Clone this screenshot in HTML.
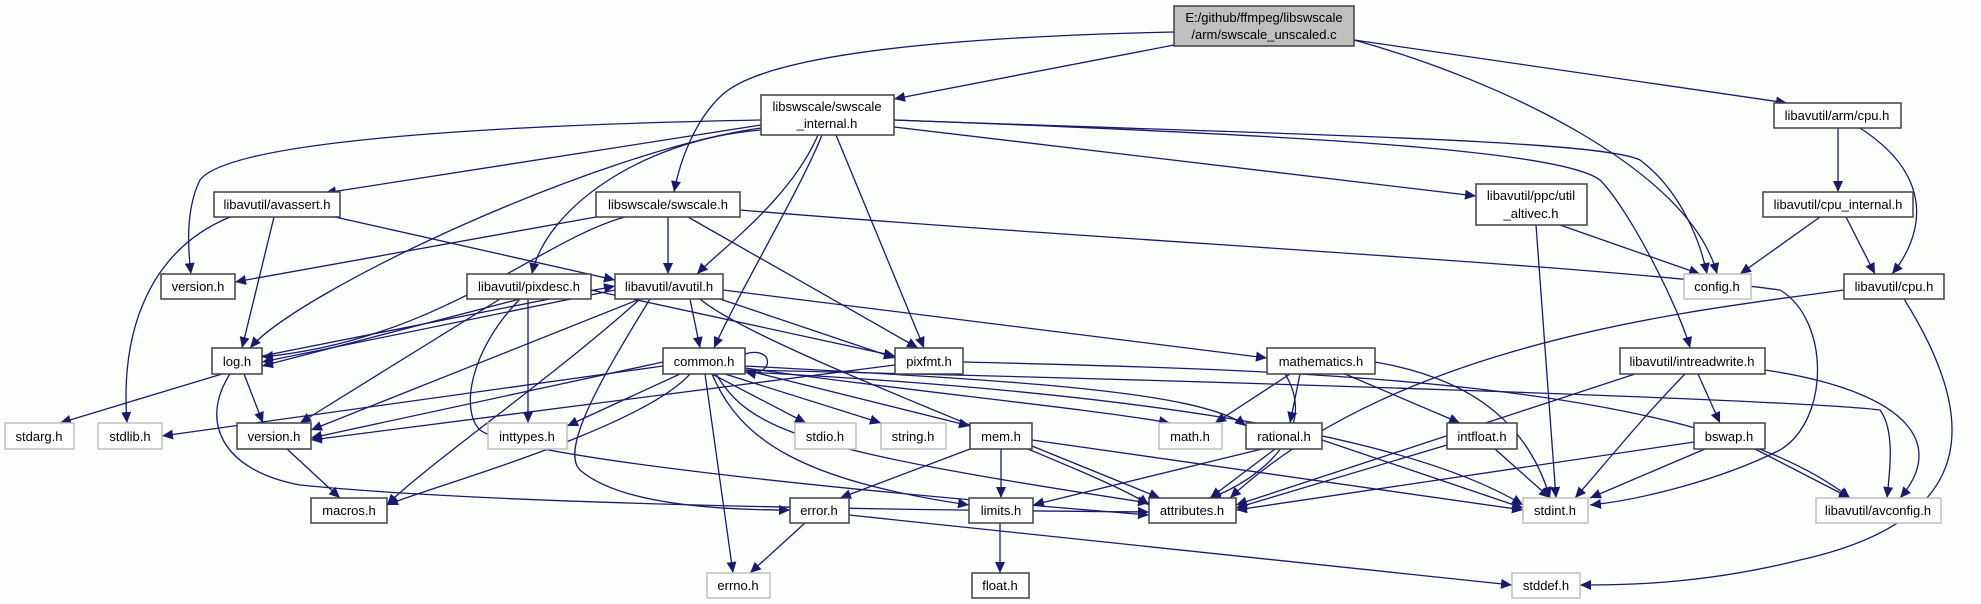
<!DOCTYPE html>
<html><head><meta charset="utf-8"><style>
html,body{margin:0;padding:0;background:#fdfffd;overflow:hidden;}
svg{display:block;}
text{font-family:"Liberation Sans",sans-serif;font-size:13px;fill:#000;}
.e{fill:none;stroke:#191970;stroke-width:1.3;marker-end:url(#a);}
.n{fill:#fff;stroke:#404040;stroke-width:1.5;}
.g{fill:#fff;stroke:#bfbfbf;stroke-width:1.5;}
</style></head><body>
<svg width="1981" height="604" viewBox="0 0 1981 604" xmlns="http://www.w3.org/2000/svg">
<defs><marker id="a" markerUnits="userSpaceOnUse" markerWidth="12" markerHeight="10" refX="11" refY="5" orient="auto"><path d="M0,0 L11,5 L0,10 z" fill="#191970"/></marker></defs>
<rect width="1981" height="604" fill="#fdfffd"/>
<!-- edges -->
<path class="e" d="M1174,45 L894,99"/>
<path class="e" d="M1174,32 C900,38 760,60 722,95 C695,120 680,160 674,192"/>
<path class="e" d="M1354,40 C1500,80 1690,170 1717,274"/>
<path class="e" d="M1354,40 L1787,103"/>
<path class="e" d="M761,125 L325,193"/>
<path class="e" d="M761,120 C500,125 230,140 200,180 C185,210 188,250 191,274"/>
<path class="e" d="M761,128 C600,150 300,290 250,348"/>
<path class="e" d="M761,130 C640,140 545,210 532,274"/>
<path class="e" d="M818,135 C790,200 720,250 697,274"/>
<path class="e" d="M822,135 C800,190 740,290 714,348"/>
<path class="e" d="M836,135 L924,348"/>
<path class="e" d="M894,127 L1476,196"/>
<path class="e" d="M894,120 C1300,135 1600,140 1640,160 C1680,190 1700,240 1707,274"/>
<path class="e" d="M894,120 C1300,135 1560,150 1600,180 C1630,210 1680,310 1690,348"/>
<path class="e" d="M230,217 C150,250 120,330 127,423"/>
<path class="e" d="M274,217 L242,348"/>
<path class="e" d="M335,217 L615,280"/>
<path class="e" d="M596,217 L235,282"/>
<path class="e" d="M625,217 C540,240 440,340 262,357"/>
<path class="e" d="M668,217 L668,274"/>
<path class="e" d="M688,217 L918,348"/>
<path class="e" d="M740,210 C1100,240 1600,265 1780,290 C1830,320 1830,420 1780,450 C1720,480 1640,500 1590,505"/>
<path class="e" d="M1560,225 L1700,274"/>
<path class="e" d="M1536,225 L1556,498"/>
<path class="e" d="M1838,128 L1838,192"/>
<path class="e" d="M1860,128 C1940,180 1920,240 1892,274"/>
<path class="e" d="M1820,217 L1740,274"/>
<path class="e" d="M1846,217 L1875,274"/>
<path class="e" d="M1844,290 C1700,310 1400,340 1230,498"/>
<path class="e" d="M1904,299 C1980,420 1980,520 1800,560 C1700,585 1620,585 1580,585"/>
<path class="e" d="M615,290 L262,362"/>
<path class="e" d="M262,356 L615,286"/>
<path class="e" d="M640,299 L311,430"/>
<path class="e" d="M690,299 L700,348"/>
<path class="e" d="M720,299 L895,358"/>
<path class="e" d="M723,290 L1267,358"/>
<path class="e" d="M640,299 C550,380 420,470 387,505"/>
<path class="e" d="M650,299 C600,380 560,450 580,470 C620,505 720,510 790,510"/>
<path class="e" d="M700,299 C760,350 1100,470 1149,505"/>
<path class="e" d="M222,374 L60,423"/>
<path class="e" d="M244,374 L263,423"/>
<path class="e" d="M230,374 C200,420 220,470 300,485 C500,505 900,510 1149,512"/>
<path class="e" d="M520,299 L262,366"/>
<path class="e" d="M500,299 L300,423"/>
<path class="e" d="M528,299 L528,423"/>
<path class="e" d="M591,290 L895,356"/>
<path class="e" d="M520,299 C470,350 460,410 480,430 C520,460 900,495 1149,515"/>
<path class="e" d="M287,449 L340,498"/>
<path class="e" d="M663,362 L311,438"/>
<path class="e" d="M663,366 L162,436"/>
<path class="e" d="M680,374 L567,426"/>
<path class="e" d="M712,374 L806,423"/>
<path class="e" d="M725,374 L881,423"/>
<path class="e" d="M745,370 L970,426"/>
<path class="e" d="M745,368 C900,390 1100,410 1170,423"/>
<path class="e" d="M745,366 C1000,380 1200,390 1246,426"/>
<path class="e" d="M690,374 C640,430 420,490 387,505"/>
<path class="e" d="M705,374 L733,573"/>
<path class="e" d="M712,374 C740,440 800,480 969,505"/>
<path class="e" d="M716,374 C750,430 800,450 1149,503"/>
<path class="e" d="M745,372 C1100,390 1400,430 1523,505"/>
<path class="e" d="M745,370 C1200,380 1800,400 1880,410 C1895,430 1890,470 1887,498"/>
<path class="e" d="M745,354 C775,345 775,378 745,372"/>
<path class="e" d="M895,365 L311,440"/>
<path class="e" d="M963,362 C1300,370 1700,380 1850,498"/>
<path class="e" d="M1290,374 L1215,423"/>
<path class="e" d="M1300,374 L1290,423"/>
<path class="e" d="M1345,374 L1460,423"/>
<path class="e" d="M1285,374 C1320,430 1260,480 1210,498"/>
<path class="e" d="M1375,362 C1480,380 1530,430 1550,498"/>
<path class="e" d="M1262,449 L1033,505"/>
<path class="e" d="M1275,449 L1210,498"/>
<path class="e" d="M1322,440 L1523,508"/>
<path class="e" d="M1001,449 L1001,498"/>
<path class="e" d="M970,449 L840,498"/>
<path class="e" d="M1032,446 L1160,498"/>
<path class="e" d="M1032,440 L1523,510"/>
<path class="e" d="M1000,523 L1000,573"/>
<path class="e" d="M805,523 L750,573"/>
<path class="e" d="M849,515 L1512,585"/>
<path class="e" d="M1447,445 L1236,508"/>
<path class="e" d="M1495,449 L1550,498"/>
<path class="e" d="M1635,374 L1236,505"/>
<path class="e" d="M1685,374 C1640,420 1600,470 1575,498"/>
<path class="e" d="M1698,374 L1720,423"/>
<path class="e" d="M1765,370 C1900,390 1950,440 1900,498"/>
<path class="e" d="M1694,442 L1236,510"/>
<path class="e" d="M1705,449 L1590,498"/>
<path class="e" d="M1755,449 L1850,498"/>
<!-- nodes -->
<rect x="1174" y="6" width="180" height="40" fill="#bfbfbf" stroke="#404040" stroke-width="1.5"/>
<text x="1264" y="22" text-anchor="middle">E:/github/ffmpeg/libswscale</text>
<text x="1264" y="39" text-anchor="middle">/arm/swscale_unscaled.c</text>
<rect class="n" x="761" y="95" width="133" height="40"/>
<text x="827" y="111" text-anchor="middle">libswscale/swscale</text>
<text x="827" y="128" text-anchor="middle">_internal.h</text>
<rect class="n" x="1774" y="103" width="127" height="25"/><text x="1837" y="120" text-anchor="middle">libavutil/arm/cpu.h</text>
<rect class="n" x="214" y="192" width="126" height="25"/><text x="277" y="209" text-anchor="middle">libavutil/avassert.h</text>
<rect class="n" x="596" y="192" width="144" height="25"/><text x="668" y="209" text-anchor="middle">libswscale/swscale.h</text>
<rect class="n" x="1476" y="184" width="111" height="41"/>
<text x="1531" y="200" text-anchor="middle">libavutil/ppc/util</text>
<text x="1531" y="218" text-anchor="middle">_altivec.h</text>
<rect class="n" x="1763" y="192" width="150" height="25"/><text x="1838" y="209" text-anchor="middle">libavutil/cpu_internal.h</text>
<rect class="n" x="161" y="274" width="74" height="25"/><text x="198" y="291" text-anchor="middle">version.h</text>
<rect class="n" x="467" y="274" width="124" height="25"/><text x="529" y="291" text-anchor="middle">libavutil/pixdesc.h</text>
<rect class="n" x="615" y="274" width="108" height="25"/><text x="669" y="291" text-anchor="middle">libavutil/avutil.h</text>
<rect class="g" x="1684" y="274" width="67" height="25"/><text x="1717" y="291" text-anchor="middle">config.h</text>
<rect class="n" x="1844" y="274" width="100" height="25"/><text x="1894" y="291" text-anchor="middle">libavutil/cpu.h</text>
<rect class="n" x="212" y="348" width="50" height="26"/><text x="237" y="366" text-anchor="middle">log.h</text>
<rect class="n" x="663" y="348" width="82" height="26"/><text x="704" y="366" text-anchor="middle">common.h</text>
<rect class="n" x="895" y="348" width="68" height="26"/><text x="929" y="366" text-anchor="middle">pixfmt.h</text>
<rect class="n" x="1267" y="348" width="108" height="26"/><text x="1321" y="366" text-anchor="middle">mathematics.h</text>
<rect class="n" x="1620" y="348" width="145" height="26"/><text x="1692" y="366" text-anchor="middle">libavutil/intreadwrite.h</text>
<rect class="g" x="5" y="423" width="69" height="26"/><text x="39" y="441" text-anchor="middle">stdarg.h</text>
<rect class="g" x="98" y="423" width="64" height="26"/><text x="130" y="441" text-anchor="middle">stdlib.h</text>
<rect class="n" x="237" y="423" width="74" height="26"/><text x="274" y="441" text-anchor="middle">version.h</text>
<rect class="g" x="488" y="423" width="79" height="26"/><text x="527" y="441" text-anchor="middle">inttypes.h</text>
<rect class="g" x="795" y="423" width="61" height="26"/><text x="825" y="441" text-anchor="middle">stdio.h</text>
<rect class="g" x="881" y="423" width="65" height="26"/><text x="913" y="441" text-anchor="middle">string.h</text>
<rect class="n" x="970" y="423" width="62" height="26"/><text x="1001" y="441" text-anchor="middle">mem.h</text>
<rect class="g" x="1159" y="423" width="63" height="26"/><text x="1190" y="441" text-anchor="middle">math.h</text>
<rect class="n" x="1246" y="423" width="76" height="26"/><text x="1284" y="441" text-anchor="middle">rational.h</text>
<rect class="n" x="1447" y="423" width="70" height="26"/><text x="1482" y="441" text-anchor="middle">intfloat.h</text>
<rect class="n" x="1694" y="423" width="71" height="26"/><text x="1729" y="441" text-anchor="middle">bswap.h</text>
<rect class="n" x="311" y="498" width="76" height="25"/><text x="349" y="515" text-anchor="middle">macros.h</text>
<rect class="n" x="790" y="498" width="59" height="25"/><text x="819" y="515" text-anchor="middle">error.h</text>
<rect class="n" x="969" y="498" width="64" height="25"/><text x="1001" y="515" text-anchor="middle">limits.h</text>
<rect class="n" x="1149" y="498" width="87" height="25"/><text x="1192" y="515" text-anchor="middle">attributes.h</text>
<rect class="g" x="1523" y="498" width="65" height="25"/><text x="1555" y="515" text-anchor="middle">stdint.h</text>
<rect class="g" x="1816" y="498" width="125" height="25"/><text x="1878" y="515" text-anchor="middle">libavutil/avconfig.h</text>
<rect class="g" x="707" y="573" width="63" height="25"/><text x="738" y="590" text-anchor="middle">errno.h</text>
<rect class="n" x="972" y="573" width="57" height="25"/><text x="1000" y="590" text-anchor="middle">float.h</text>
<rect class="g" x="1512" y="573" width="68" height="25"/><text x="1546" y="590" text-anchor="middle">stddef.h</text>
</svg>
</body></html>
